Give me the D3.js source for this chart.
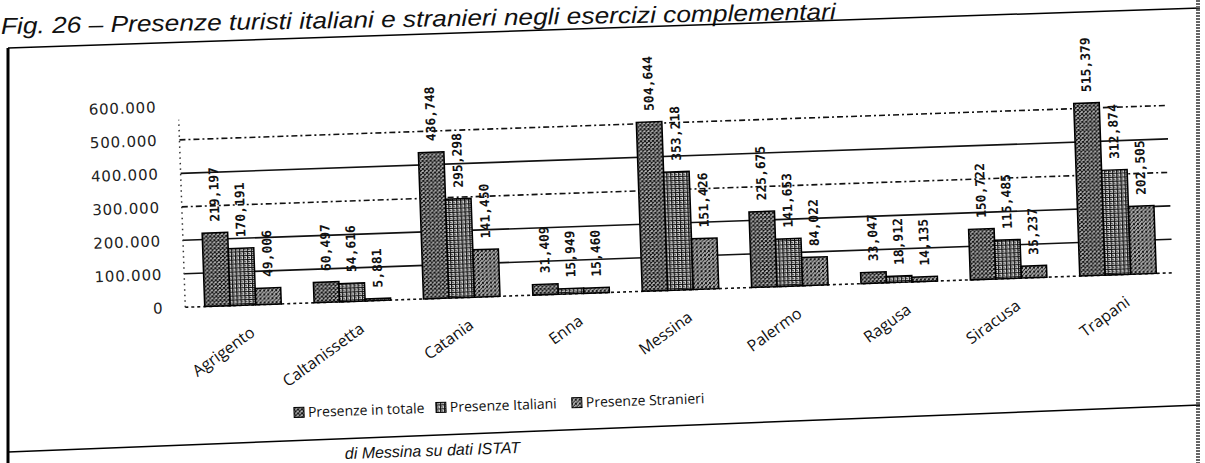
<!DOCTYPE html>
<html>
<head>
<meta charset="utf-8">
<script src="https://cdn.jsdelivr.net/npm/d3@7"></script>
<style>
  body { margin: 0; background: #fff; }
  svg { display: block; }
</style>
</head>
<body>
<div id="chart"></div>
<script>
//Chart data
const categories = ["Agrigento", "Caltanissetta", "Catania", "Enna", "Messina", "Palermo", "Ragusa", "Siracusa", "Trapani"]
const totale = [219197, 60497, 436748, 31409, 504644, 225675, 33047, 150722, 515379]
const italiani = [170191, 54616, 295298, 15949, 353218, 141653, 18912, 115485, 312874]
const stranieri = [49006, 5881, 141450, 15460, 151426, 84022, 14135, 35237, 202505]
const seriesNames = ["Presenze in totale", "Presenze Italiani", "Presenze Stranieri"]
const yTicks = [0, 100000, 200000, 300000, 400000, 500000, 600000]

const width = 1205
const height = 463

const svg = d3.select("#chart")
  .append("svg")
  .attr("width", width)
  .attr("height", height)

//Patterns that imitate the scanned textures
const defs = svg.append("defs")

const pTot = defs.append("pattern").attr("id", "pTot")
  .attr("width", 4).attr("height", 4).attr("patternUnits", "userSpaceOnUse")
pTot.append("rect").attr("width", 4).attr("height", 4).attr("fill", "#c8c8c8")
pTot.append("path").attr("d", "M0,0 L4,4 M4,0 L0,4").attr("stroke", "#111").attr("stroke-width", 1.2)

const pIta = defs.append("pattern").attr("id", "pIta")
  .attr("width", 4).attr("height", 4).attr("patternUnits", "userSpaceOnUse")
pIta.append("rect").attr("width", 4).attr("height", 4).attr("fill", "#d8d8d8")
pIta.append("path").attr("d", "M0,0.5 L4,0.5 M0.5,0 L0.5,4").attr("stroke", "#111").attr("stroke-width", 1.2)
pIta.append("path").attr("d", "M1,2 L3,3").attr("stroke", "#222").attr("stroke-width", 1)

const pStr = defs.append("pattern").attr("id", "pStr")
  .attr("width", 4).attr("height", 4).attr("patternUnits", "userSpaceOnUse")
pStr.append("rect").attr("width", 4).attr("height", 4).attr("fill", "#e0e0e0")
pStr.append("path").attr("d", "M0,4 L4,0 M0,1 L1,0 M3,4 L4,3").attr("stroke", "#111").attr("stroke-width", 1.2)
pStr.append("path").attr("d", "M0.5,2 L2,2.5").attr("stroke", "#333").attr("stroke-width", 0.8)

const fills = ["url(#pTot)", "url(#pIta)", "url(#pStr)"]

//Title (slightly tilted like the scan)
svg.append("text")
  .text("Fig. 26 – Presenze turisti italiani e stranieri negli esercizi complementari")
  .attr("x", 1)
  .attr("y", 34)
  .attr("textLength", 835)
  .attr("lengthAdjust", "spacingAndGlyphs")
  .attr("transform", "rotate(-1.0, 0, 34)")
  .style("font-family", "'Liberation Sans Narrow', 'Liberation Sans', sans-serif")
  .style("font-style", "italic")
  .style("font-size", "23px")
  .style("fill", "#111")

//Frame of the figure
svg.append("line")
  .attr("x1", 8).attr("y1", 48).attr("x2", 8).attr("y2", 463)
  .attr("stroke", "#000").attr("stroke-width", 3)
svg.append("line")
  .attr("x1", 8).attr("y1", 48).attr("x2", 1200).attr("y2", 8)
  .attr("stroke", "#000").attr("stroke-width", 1.5)
svg.append("line")
  .attr("x1", 1198).attr("y1", 0).attr("x2", 1198).attr("y2", 463)
  .attr("stroke", "#666").attr("stroke-width", 4).attr("stroke-dasharray", "2,1")
svg.append("line")
  .attr("x1", 8).attr("y1", 452).attr("x2", 1200).attr("y2", 405)
  .attr("stroke", "#000").attr("stroke-width", 1.5)

//Source line at the bottom
svg.append("text")
  .text("di Messina su dati ISTAT")
  .attr("x", 345)
  .attr("y", 459)
  .attr("transform", "rotate(-2, 345, 459)")
  .style("font-family", "'Liberation Sans', sans-serif")
  .style("font-style", "italic")
  .style("font-size", "16px")
  .style("fill", "#111")

//Chart group, rotated a little like the scanned page
const graph = svg.append("g")
  .attr("transform", "rotate(-2, 680, 290)")

const x = d3.scaleBand()
  .domain(categories)
  .range([188, 1173])
  .paddingInner(0.3)
  .paddingOuter(0.15)

const xSub = d3.scaleBand()
  .domain(d3.range(3))
  .range([0, x.bandwidth()])
  .padding(0)

const y = d3.scaleLinear()
  .domain([0, 600000])
  .range([290, 89])

const tickFormat = d3.formatLocale({ decimal: ",", thousands: ".", grouping: [3], currency: ["", "€"] }).format(",")
const labelFormat = d3.format(",")

//Y axis labels
const yAxis = d3.axisLeft(y)
  .tickValues(yTicks)
  .tickFormat(tickFormat)
  .tickSize(0)
  .tickPadding(22)

const yG = graph.append("g")
  .attr("transform", "translate(185,0)")
  .call(yAxis)
yG.select(".domain").remove()
yG.selectAll("text")
  .style("font-family", "'DejaVu Sans', sans-serif")
  .style("font-size", "15px")
  .style("letter-spacing", "0.8px")
  .style("fill", "#222")

//Grid lines: solid and dash-dot like the original
const gridStyle = { 0: "3,3", 100000: null, 200000: null, 300000: "6,3,2,3", 400000: null, 500000: "6,3,2,3" }
graph.selectAll(".grid")
  .data(yTicks.filter(d => d < 600000))
  .enter()
  .append("line")
  .attr("class", "grid")
  .attr("x1", 185)
  .attr("x2", 1173)
  .attr("y1", d => y(d))
  .attr("y2", d => y(d))
  .attr("stroke", "#111")
  .attr("stroke-width", 1.6)
  .attr("stroke-dasharray", d => gridStyle[d])

//Dotted vertical axis
graph.append("line")
  .attr("x1", 185).attr("x2", 185)
  .attr("y1", y(0)).attr("y2", y(560000))
  .attr("stroke", "#333").attr("stroke-width", 1.5)
  .attr("stroke-dasharray", "1.5,4")

//Bars
const rows = categories.map((c, i) => ({ cat: c, values: [totale[i], italiani[i], stranieri[i]] }))

const groups = graph.selectAll(".cat")
  .data(rows)
  .enter()
  .append("g")
  .attr("class", "cat")
  .attr("transform", d => "translate(" + x(d.cat) + ",0)")

groups.selectAll("rect")
  .data(d => d.values.map((v, k) => ({ v: v, k: k })))
  .enter()
  .append("rect")
  .attr("x", d => xSub(d.k))
  .attr("width", xSub.bandwidth())
  .attr("y", d => y(d.v))
  .attr("height", d => y(0) - y(d.v))
  .attr("fill", d => fills[d.k])
  .attr("stroke", "#000")
  .attr("stroke-width", 1.5)

//Value labels, written upwards above each bar
groups.selectAll(".val")
  .data(d => d.values.map((v, k) => ({ v: v, k: k })))
  .enter()
  .append("text")
  .attr("class", "val")
  .text(d => labelFormat(d.v))
  .attr("transform", d => "translate(" + (xSub(d.k) + xSub.bandwidth() / 2 + 5) + "," + (y(d.v) - 11) + ") rotate(-90)")
  .style("font-family", "'DejaVu Sans Mono', monospace")
  .style("font-weight", "bold")
  .style("font-size", "13px")
  .style("fill", "#111")

//Category labels
graph.selectAll(".catlabel")
  .data(categories)
  .enter()
  .append("text")
  .attr("class", "catlabel")
  .text(d => d)
  .attr("text-anchor", "end")
  .attr("transform", d => "translate(" + (x(d) + x.bandwidth() / 2 + 12) + "," + (y(0) + 30) + ") rotate(-34)")
  .style("font-family", "'Open Sans', sans-serif")
  .style("font-size", "16px")
  .style("fill", "#111")

//Legend
const legendX = [290, 432, 568]
const legend = graph.selectAll(".legend")
  .data(seriesNames)
  .enter()
  .append("g")
  .attr("class", "legend")
  .attr("transform", (d, i) => "translate(" + legendX[i] + ",404)")

legend.append("rect")
  .attr("width", 10).attr("height", 10)
  .attr("y", -10)
  .attr("fill", (d, i) => fills[i])
  .attr("stroke", "#000")
  .attr("stroke-width", 1)

legend.append("text")
  .text(d => d)
  .attr("x", 14)
  .style("font-family", "'Open Sans', sans-serif")
  .style("font-size", "14px")
  .style("fill", "#111")
</script>
</body>
</html>
